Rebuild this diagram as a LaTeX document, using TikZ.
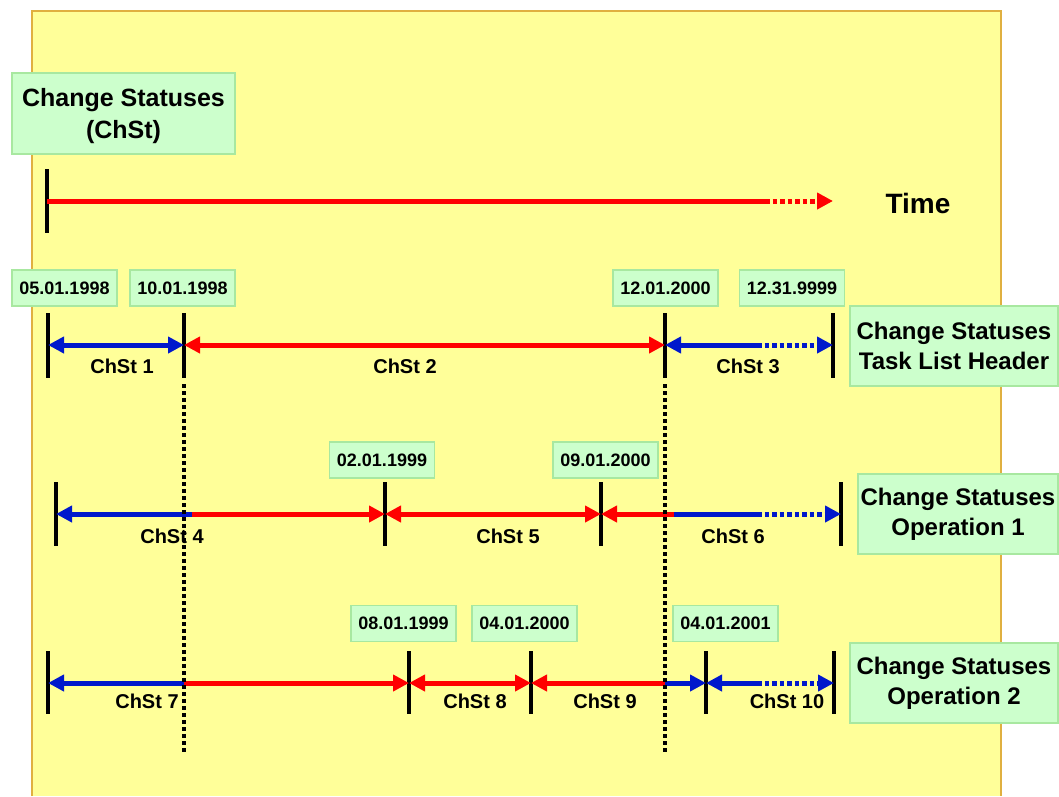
\documentclass[tikz,border=0pt]{standalone}
\usepackage{fontspec}
\setmainfont{Liberation Sans}
\usetikzlibrary{arrows.meta}
\definecolor{bgyellow}{HTML}{FFFF99}
\definecolor{bgborder}{HTML}{E0B040}
\definecolor{boxgreen}{HTML}{CCFFCC}
\definecolor{boxborder}{HTML}{A8E8A0}
\definecolor{myred}{HTML}{FF0000}
\definecolor{myblue}{HTML}{0018CC}
\begin{document}
\begin{tikzpicture}[x=1pt,y=-1pt,
 >={Triangle[length=16pt,width=16pt]},
 greenbox/.style={draw=boxborder, fill=boxgreen, line width=1.5pt, inner sep=0pt, align=center, font=\bfseries\fontsize{24}{30}\selectfont},
 datebox/.style={draw=boxborder, fill=boxgreen, line width=1.5pt, minimum width=105pt, minimum height=36pt, inner sep=0pt, font=\bfseries\fontsize{18}{20}\selectfont},
 lbl/.style={font=\bfseries\fontsize{20}{22}\selectfont, inner sep=0pt},
 bar/.style={line width=4.5pt, black},
 seg/.style={line width=5pt},
 dotseg/.style={line width=5pt, dash pattern=on 4.5pt off 3pt},
 guide/.style={line width=4pt, black, dash pattern=on 4pt off 3pt}
]
\useasboundingbox (0,0) rectangle (1059,796);
% background
\fill[bgyellow] (32,11) rectangle (1001,796);
\draw[bgborder, line width=1.5pt] (32,796) -- (32,11) -- (1001,11) -- (1001,796);

% title
\node[greenbox, minimum width=223pt, minimum height=81pt, font=\bfseries\fontsize{25}{32}\selectfont, text depth=0pt] (title) at (123.5,113.5) {Change Statuses\\(ChSt)};

% time axis
\coordinate (t0top) at (47,169);
\coordinate (t0bot) at (47,233);
\coordinate (t0) at (47,201);
\coordinate (t0m) at (765,201);
\coordinate (t0e) at (833,201);
\draw[bar] (t0top) -- (t0bot);
\draw[seg, myred] (t0) -- (t0m);
\draw[dotseg, myred, ->] (t0m) -- (t0e);
\node[font=\bfseries\fontsize{28}{32}\selectfont, inner sep=0pt] (time) at (918,203) {Time};

% ---------- Row 1: Task List Header ----------
\foreach \n/\x in {a/48, b/184, c/665, d/833}{
  \coordinate (r1\n) at (\x,345);
  \coordinate (r1\n t) at (\x,313);
  \coordinate (r1\n b) at (\x,378);
}
\coordinate (r1m) at (757,345);
\foreach \n in {a,b,c,d}{\draw[bar] (r1\n t) -- (r1\n b);}
\draw[seg, myblue, <->] (r1a) -- (r1b);
\draw[seg, myred, <->] (r1b) -- (r1c);
\draw[seg, myblue, <-] (r1c) -- (r1m);
\draw[dotseg, myblue, ->] (r1m) -- (r1d);
\node[datebox] (d1) at (64.5,288) {05.01.1998};
\node[datebox] (d2) at (182.5,288) {10.01.1998};
\node[datebox] (d3) at (665.5,288) {12.01.2000};
\node[datebox] (d4) at (792,288) {12.31.9999};
\node[lbl] (c1) at (122,366) {ChSt 1};
\node[lbl] (c2) at (405,366) {ChSt 2};
\node[lbl] (c3) at (748,366) {ChSt 3};
\node[greenbox, minimum width=208pt, minimum height=80pt] (h1) at (954,346) {Change Statuses\\Task List Header};

% ---------- Row 2: Operation 1 ----------
\foreach \n/\x in {a/56, b/385, c/601, d/841}{
  \coordinate (r2\n) at (\x,514);
  \coordinate (r2\n t) at (\x,482);
  \coordinate (r2\n b) at (\x,546);
}
\coordinate (r2p) at (192,514);
\coordinate (r2q) at (674,514);
\coordinate (r2m) at (757,514);
\foreach \n in {a,b,c,d}{\draw[bar] (r2\n t) -- (r2\n b);}
\draw[seg, myblue, <-] (r2a) -- (r2p);
\draw[seg, myred, ->] (r2p) -- (r2b);
\draw[seg, myred, <->] (r2b) -- (r2c);
\draw[seg, myred, <-] (r2c) -- (r2q);
\draw[seg, myblue] (r2q) -- (r2m);
\draw[dotseg, myblue, ->] (r2m) -- (r2d);
\node[datebox] (d5) at (382,460) {02.01.1999};
\node[datebox] (d6) at (605.5,460) {09.01.2000};
\node[lbl] (c4) at (172,536) {ChSt 4};
\node[lbl] (c5) at (508,536) {ChSt 5};
\node[lbl] (c6) at (733,536) {ChSt 6};
\node[greenbox, minimum width=200pt, minimum height=80pt] (h2) at (958,514) {Change Statuses\\Operation 1};

% ---------- Row 3: Operation 2 ----------
\foreach \n/\x in {a/48, b/409, c/531, d/706, e/834}{
  \coordinate (r3\n) at (\x,683);
  \coordinate (r3\n t) at (\x,651);
  \coordinate (r3\n b) at (\x,714);
}
\coordinate (r3p) at (184,683);
\coordinate (r3q) at (665,683);
\coordinate (r3m) at (757,683);
\foreach \n in {a,b,c,d,e}{\draw[bar] (r3\n t) -- (r3\n b);}
\draw[seg, myblue, <-] (r3a) -- (r3p);
\draw[seg, myred, ->] (r3p) -- (r3b);
\draw[seg, myred, <->] (r3b) -- (r3c);
\draw[seg, myred, <-] (r3c) -- (r3q);
\draw[seg, myblue, ->] (r3q) -- (r3d);
\draw[seg, myblue, <-] (r3d) -- (r3m);
\draw[dotseg, myblue, ->] (r3m) -- (r3e);
\node[datebox] (d7) at (403.5,623.5) {08.01.1999};
\node[datebox] (d8) at (524.5,623.5) {04.01.2000};
\node[datebox] (d9) at (725.5,623.5) {04.01.2001};
\node[lbl] (c7) at (147,701) {ChSt 7};
\node[lbl] (c8) at (475,701) {ChSt 8};
\node[lbl] (c9) at (605,701) {ChSt 9};
\node[lbl] (c10) at (787,701) {ChSt 10};
\node[greenbox, minimum width=208pt, minimum height=80pt] (h3) at (954,683) {Change Statuses\\Operation 2};

% guide lines
\coordinate (g1t) at (184,384);
\coordinate (g1b) at (184,754);
\coordinate (g2t) at (665,384);
\coordinate (g2b) at (665,754);
\draw[guide] (g1t) -- (g1b);
\draw[guide] (g2t) -- (g2b);
\end{tikzpicture}
\end{document}
